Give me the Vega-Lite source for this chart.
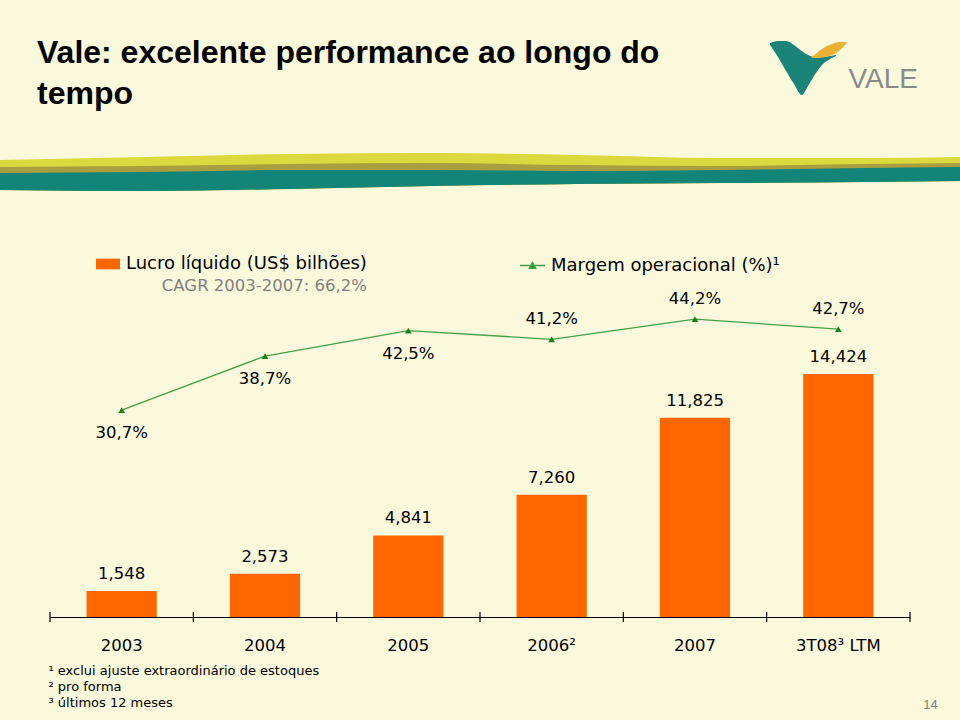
{
  "$schema": "https://vega.github.io/schema/vega-lite/v6.json",
  "autosize": {"type": "pad"},
  "padding": {"left": 0, "top": 37, "right": 0, "bottom": 30},
  "background": "#FAF9DC",
  "bounds": "flush",
  "center": true,
  "spacing": 88,
  "config": {
    "view": {"stroke": null},
    "font": "DejaVu Sans",
    "axis": {"grid": false},
    "locale": {"number": {"decimal": ",", "thousands": ".", "grouping": [3], "currency": ["US$", ""]}}
  },
  "title": {
    "text": ["Vale: excelente performance ao longo do", "tempo"],
    "anchor": "start",
    "frame": "group",
    "font": "Liberation Sans",
    "fontWeight": "bold",
    "fontSize": 32,
    "lineHeight": 41,
    "color": "#000000",
    "dx": 37,
    "offset": -71
  },
  "datasets": {
    "faixas": [
      {"x": 0, "amarelo": 32, "oliva": 25, "verde": 19, "base": 2},
      {"x": 15, "amarelo": 35, "oliva": 26, "verde": 20, "base": 1},
      {"x": 30, "amarelo": 38, "oliva": 28, "verde": 22, "base": 3},
      {"x": 45, "amarelo": 39, "oliva": 29, "verde": 22, "base": 6},
      {"x": 60, "amarelo": 37, "oliva": 27, "verde": 21, "base": 8},
      {"x": 75, "amarelo": 34, "oliva": 26, "verde": 22, "base": 9},
      {"x": 90, "amarelo": 34, "oliva": 28, "verde": 24, "base": 10},
      {"x": 100, "amarelo": 35, "oliva": 29, "verde": 25, "base": 11}
    ],
    "logo_v": [
      {"x": 80.21, "topo": 149, "base": 147},
      {"x": 81.04, "topo": 151, "base": 135},
      {"x": 81.88, "topo": 151, "base": 121},
      {"x": 82.71, "topo": 147, "base": 108},
      {"x": 83.51, "topo": 141, "base": 97},
      {"x": 84.17, "topo": 137, "base": 106},
      {"x": 84.79, "topo": 135, "base": 116},
      {"x": 85.63, "topo": 135, "base": 127},
      {"x": 86.46, "topo": 136, "base": 133},
      {"x": 87.08, "topo": 137, "base": 136}
    ],
    "logo_folha": [
      {"x": 84.58, "topo": 135, "base": 134},
      {"x": 85.21, "topo": 140, "base": 134},
      {"x": 85.94, "topo": 145, "base": 135},
      {"x": 86.67, "topo": 148, "base": 137},
      {"x": 87.40, "topo": 150, "base": 141},
      {"x": 88.02, "topo": 150, "base": 147},
      {"x": 88.23, "topo": 149.5, "base": 149}
    ],
    "logo_texto": [
      {"x": 92.0, "nivel": 104, "texto": "VALE"}
    ],
    "valores": [
      {"periodo": "2003", "lucro": 1.548, "margem": 0.307},
      {"periodo": "2004", "lucro": 2.573, "margem": 0.387},
      {"periodo": "2005", "lucro": 4.841, "margem": 0.425},
      {"periodo": "2006²", "lucro": 7.26, "margem": 0.412},
      {"periodo": "2007", "lucro": 11.825, "margem": 0.442},
      {"periodo": "3T08³ LTM", "lucro": 14.424, "margem": 0.427}
    ]
  },
  "vconcat": [
    {
      "width": 960,
      "height": 152,
      "layer": [
        {
          "data": {"name": "faixas"},
          "mark": {"type": "area", "color": "#DCD93E", "interpolate": "monotone", "opacity": 1},
          "encoding": {
            "x": {"field": "x", "type": "quantitative", "scale": {"domain": [0, 100], "nice": false, "zero": false}, "axis": null},
            "y": {"field": "amarelo", "type": "quantitative", "scale": {"domain": [0, 152], "nice": false}, "axis": null},
            "y2": {"field": "base"}
          }
        },
        {
          "data": {"name": "faixas"},
          "mark": {"type": "area", "color": "#A99E40", "interpolate": "monotone", "opacity": 1},
          "encoding": {
            "x": {"field": "x", "type": "quantitative"},
            "y": {"field": "oliva", "type": "quantitative"},
            "y2": {"field": "base"}
          }
        },
        {
          "data": {"name": "faixas"},
          "mark": {"type": "area", "color": "#138478", "interpolate": "monotone", "opacity": 1},
          "encoding": {
            "x": {"field": "x", "type": "quantitative"},
            "y": {"field": "verde", "type": "quantitative"},
            "y2": {"field": "base"}
          }
        },
        {
          "data": {"name": "logo_v"},
          "mark": {"type": "area", "color": "#1A8479", "interpolate": "monotone", "opacity": 1},
          "encoding": {
            "x": {"field": "x", "type": "quantitative"},
            "y": {"field": "topo", "type": "quantitative"},
            "y2": {"field": "base"}
          }
        },
        {
          "data": {"name": "logo_folha"},
          "mark": {"type": "area", "color": "#E9B232", "interpolate": "monotone", "opacity": 1},
          "encoding": {
            "x": {"field": "x", "type": "quantitative"},
            "y": {"field": "topo", "type": "quantitative"},
            "y2": {"field": "base"}
          }
        },
        {
          "data": {"name": "logo_texto"},
          "mark": {"type": "text", "font": "Liberation Sans", "fontSize": 28, "color": "#8A8A8A", "align": "center", "baseline": "alphabetic"},
          "encoding": {
            "x": {"field": "x", "type": "quantitative"},
            "y": {"field": "nivel", "type": "quantitative"},
            "text": {"field": "texto"}
          }
        }
      ]
    },
    {
      "width": 860,
      "height": 337,
      "data": {"name": "valores"},
      "encoding": {
        "x": {
          "field": "periodo",
          "type": "nominal",
          "sort": null,
          "scale": {"paddingInner": 0, "paddingOuter": 0},
          "axis": {
            "title": ["¹ exclui ajuste extraordinário de estoques", "² pro forma", "³ últimos 12 meses"],
            "titleX": -2,
            "titleY": 47,
            "titleAlign": "left",
            "titleAnchor": "start",
            "titleBaseline": "top",
            "titleFontSize": 13,
            "titleFontWeight": "normal",
            "titleLineHeight": 16,
            "titleColor": "#000000",
            "labelFontSize": 16.5,
            "labelAngle": 0,
            "labelPadding": 20,
            "labelColor": "#000000",
            "ticks": false,
            "domainColor": "#000000",
            "domainWidth": 1.2
          }
        }
      },
      "layer": [
        {
          "layer": [
            {
              "mark": {"type": "bar", "width": {"band": 0.49}},
              "encoding": {
                "y": {"field": "lucro", "type": "quantitative", "scale": {"domain": [0, 20]}, "axis": null},
                "fill": {
                  "datum": "Lucro líquido (US$ bilhões)",
                  "type": "nominal",
                  "scale": {"range": ["#FF6600"]},
                  "legend": {
                    "orient": "none",
                    "legendX": 46,
                    "legendY": -28,
                    "title": "CAGR 2003-2007: 66,2%",
                    "titleOrient": "bottom",
                    "titleAnchor": "end",
                    "titleColor": "#808080",
                    "titleFontSize": 16.5,
                    "titleFontWeight": "normal",
                    "titleFont": "DejaVu Sans",
                    "titlePadding": 5,
                    "titleLimit": 500,
                    "labelLimit": 500,
                    "labelFontSize": 18,
                    "labelColor": "#000000",
                    "labelFont": "DejaVu Sans",
                    "symbolType": "M-1,-0.45H1V0.45H-1Z",
                    "symbolSize": 576,
                    "symbolStrokeWidth": 0,
                    "labelOffset": 6
                  }
                }
              }
            },
            {
              "mark": {"type": "rule", "color": "#000000", "strokeWidth": 1.2},
              "encoding": {
                "x": {"field": "periodo", "type": "nominal", "bandPosition": 0},
                "y": {"datum": 0.3, "type": "quantitative"},
                "y2": {"datum": -0.3}
              }
            },
            {
              "transform": [{"filter": {"field": "periodo", "equal": "3T08³ LTM"}}],
              "mark": {"type": "rule", "color": "#000000", "strokeWidth": 1.2},
              "encoding": {
                "x": {"field": "periodo", "type": "nominal", "bandPosition": 1},
                "y": {"datum": 0.3, "type": "quantitative"},
                "y2": {"datum": -0.3}
              }
            },
            {
              "mark": {"type": "text", "dy": -17, "fontSize": 16.5, "color": "#000000"},
              "encoding": {
                "y": {"field": "lucro", "type": "quantitative"},
                "text": {"field": "lucro", "type": "quantitative", "format": ".3f"}
              }
            }
          ]
        },
        {
          "layer": [
            {
              "mark": {"type": "line", "strokeWidth": 1.3},
              "encoding": {
                "y": {
                  "field": "margem",
                  "type": "quantitative",
                  "scale": {"domain": [0, 0.5]},
                  "axis": {
                    "orient": "right",
                    "title": "14",
                    "domain": false,
                    "ticks": false,
                    "labels": false,
                    "titleAngle": 0,
                    "titleX": 20,
                    "titleY": 424,
                    "titleAlign": "center",
                    "titleBaseline": "middle",
                    "titleFontSize": 13,
                    "titleFontWeight": "normal",
                    "titleFont": "Liberation Sans",
                    "titleColor": "#7F7F7F"
                  }
                },
                "stroke": {
                  "datum": "Margem operacional (%)¹",
                  "type": "nominal",
                  "scale": {"range": ["#44A044"]},
                  "legend": {
                    "orient": "none",
                    "legendX": 469,
                    "legendY": -28,
                    "title": null,
                    "labelLimit": 500,
                    "labelFontSize": 18,
                    "labelColor": "#000000",
                    "labelFont": "DejaVu Sans",
                    "symbolType": "M-1,0H1M-0.25,0.22L0,-0.24L0.25,0.22Z",
                    "symbolSize": 625,
                    "symbolStrokeWidth": 1.5,
                    "symbolFillColor": "#2A862A",
                    "labelOffset": 5,
                    "encode": {"symbols": {"update": {"fill": {"value": "#2A862A"}}}}
                  }
                }
              }
            },
            {
              "mark": {"type": "point", "shape": "triangle-up", "filled": true, "size": 45, "color": "#1F7F1F", "opacity": 1},
              "encoding": {"y": {"field": "margem", "type": "quantitative"}}
            },
            {
              "transform": [{"filter": {"field": "periodo", "oneOf": ["2003", "2004", "2005"]}}],
              "mark": {"type": "text", "dy": 23, "fontSize": 16.5, "color": "#000000"},
              "encoding": {
                "y": {"field": "margem", "type": "quantitative"},
                "text": {"field": "margem", "type": "quantitative", "format": ".1%"}
              }
            },
            {
              "transform": [{"filter": {"not": {"field": "periodo", "oneOf": ["2003", "2004", "2005"]}}}],
              "mark": {"type": "text", "dy": -20, "fontSize": 16.5, "color": "#000000"},
              "encoding": {
                "y": {"field": "margem", "type": "quantitative"},
                "text": {"field": "margem", "type": "quantitative", "format": ".1%"}
              }
            }
          ]
        }
      ],
      "resolve": {"scale": {"y": "independent"}}
    }
  ],
  "resolve": {
    "scale": {"x": "independent", "y": "independent", "fill": "independent", "stroke": "independent"},
    "legend": {"fill": "independent", "stroke": "independent"}
  }
}
